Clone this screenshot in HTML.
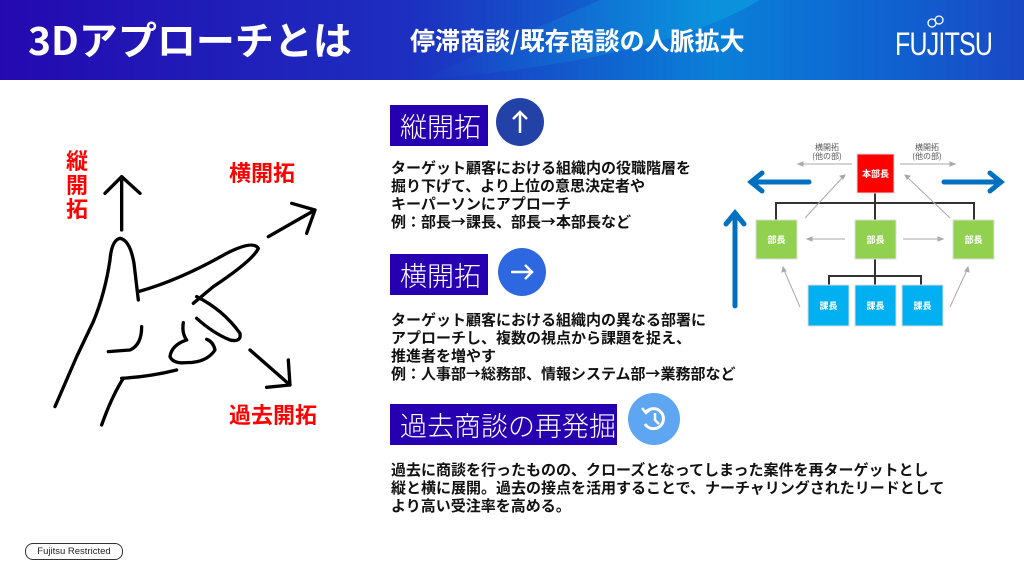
<!DOCTYPE html>
<html><head><meta charset="utf-8"><style>
*{margin:0;padding:0;box-sizing:border-box}
body{width:1024px;height:576px;background:#fff;position:relative;overflow:hidden;font-family:"Liberation Sans","Noto Sans CJK JP",sans-serif}
.hdr{position:absolute;left:0;top:0;width:1024px;height:80px;background:linear-gradient(90deg,#2409b0 0%,#1d2fc0 40%,#0a80d8 70%,#1060d0 88%,#1a48c4 100%);overflow:hidden}
.t{position:absolute;color:#fff;font-weight:bold;white-space:nowrap}
.box{position:absolute;background:#2600b0;color:#fff;font-size:27px;line-height:41px;padding-left:10px;font-family:"Noto Sans CJK JP",sans-serif;font-weight:300}
.txt{position:absolute;font-size:15px;font-weight:bold;line-height:18px;color:#111;white-space:nowrap;font-family:"Noto Sans CJK JP",sans-serif}
.red{position:absolute;color:#f00;font-weight:bold;font-size:22px;font-family:"Noto Sans CJK JP",sans-serif;line-height:24px}
</style></head><body>
<div class="hdr">
<svg width="1024" height="80" style="position:absolute;left:0;top:0"><defs><linearGradient id="g" x1="0" x2="1"><stop offset="0" stop-color="#0ab4e6" stop-opacity="0"/><stop offset="1" stop-color="#0ab4e6" stop-opacity="0.7"/></linearGradient></defs><path d="M420 80 Q660 60 760 0 L600 0 Z" fill="url(#g)" opacity="0.6"/></svg>
<div class="t" style="left:28px;top:14px;font-size:39px;font-family:'Noto Sans CJK JP',sans-serif;line-height:50px">3Dアプローチとは</div>
<div class="t" style="left:410px;top:23px;font-size:25px;font-family:'Noto Sans CJK JP',sans-serif;line-height:34px">停滞商談/既存商談の人脈拡大</div>
<div class="t" style="left:895px;top:27px;font-size:32px;font-weight:normal;letter-spacing:-1px;line-height:34px;transform:scaleX(0.78);transform-origin:left">FUJITSU</div>
<svg style="position:absolute;left:925px;top:14px" width="22" height="16"><circle cx="7" cy="9" r="4" fill="none" stroke="#fff" stroke-width="1.3"/><circle cx="14" cy="6" r="4" fill="none" stroke="#fff" stroke-width="1.3"/></svg>
</div>

<div class="red" style="left:66px;top:148px;width:24px">縦<br>開<br>拓</div>
<div class="red" style="left:229px;top:160px">横開拓</div>
<div class="red" style="left:229px;top:402px">過去開拓</div>
<svg width="1024" height="576" style="position:absolute;left:0;top:0">
<g transform="translate(40,140) scale(0.3333)" fill="none" stroke="#000" stroke-width="10" stroke-linecap="round" stroke-linejoin="round">
<path d="M245 270 L245 110 M195 160 L245 110 L300 160"/>
<path d="M685 290 L825 210 M755 190 L825 210 L800 280"/>
<path d="M630 630 L750 735 M745 660 L750 735 L680 742"/>
<path d="M45 800 L110 650 L160 545 Q195 460 210 360 Q215 300 240 295 Q270 300 282 370 L295 480"/>
<path d="M295 455 Q420 420 560 340 Q640 300 655 325 Q640 360 520 440 L460 490"/>
<path d="M470 470 Q550 510 600 580 Q605 608 570 600 Q520 580 470 535"/>
<path d="M430 548 Q425 580 440 600 Q395 615 390 650 Q400 672 440 668 Q500 668 525 630 Q520 605 500 598"/>
<path d="M305 560 Q305 615 270 630 L205 635"/>
<path d="M245 715 Q330 710 410 690"/>
<path d="M250 715 Q215 770 185 855"/>
</g>
<g stroke="#333" stroke-width="2" fill="none">
<path d="M875 193 V220 M776 220 V203 H974 V220 M875 259 V285 M829 285 V276 H921 V285"/>
</g>
<g stroke="#aaa" stroke-width="1" fill="#aaa">
<line x1="852" y1="164" x2="800" y2="164"/><path d="M798 164 l5 -2 v4z"/>
<line x1="900" y1="164" x2="953" y2="164"/><path d="M955 164 l-5 -2 v4z"/>
<line x1="805" y1="218" x2="843" y2="177"/><path d="M845 175 l-5 1 3 3z"/>
<line x1="950" y1="218" x2="907" y2="177"/><path d="M905 175 l5 1 -3 3z"/>
<line x1="845" y1="239" x2="809" y2="239"/><path d="M807 239 l5 -2 v4z"/>
<line x1="903" y1="239" x2="941" y2="239"/><path d="M943 239 l-5 -2 v4z"/>
<line x1="800" y1="307" x2="784" y2="270"/><path d="M783 267 l-1 5 4 -1z"/>
<line x1="950" y1="307" x2="967" y2="270"/><path d="M968 267 l1 5 -4 -1z"/>
</g>
<g stroke="#0070c0" stroke-width="5" fill="none" stroke-linecap="round">
<path d="M809 182 H752 M762 173 L751 182 L762 191"/>
<path d="M944 182 H1000 M990 173 L1001 182 L990 191"/>
<path d="M735 306 V214 M726 224 L735 213 L744 224"/>
</g>
<text x="827" y="150" font-size="8" fill="#555" text-anchor="middle" font-family="Noto Sans CJK JP,sans-serif">横開拓</text>
<text x="827" y="159" font-size="8" fill="#555" text-anchor="middle" font-family="Noto Sans CJK JP,sans-serif">(他の部)</text>
<text x="927" y="150" font-size="8" fill="#555" text-anchor="middle" font-family="Noto Sans CJK JP,sans-serif">横開拓</text>
<text x="927" y="159" font-size="8" fill="#555" text-anchor="middle" font-family="Noto Sans CJK JP,sans-serif">(他の部)</text>
<g font-size="9" font-weight="bold" fill="#fff" text-anchor="middle" font-family="Noto Sans CJK JP,sans-serif">
<rect x="857" y="154" width="37" height="39" fill="#f00" stroke="#ddd"/><text x="875.5" y="177">本部長</text>
<rect x="756" y="220" width="41" height="39" fill="#92d050" stroke="#ddd"/><text x="776.5" y="243">部長</text>
<rect x="855" y="220" width="41" height="39" fill="#92d050" stroke="#ddd"/><text x="875.5" y="243">部長</text>
<rect x="953" y="220" width="41" height="39" fill="#92d050" stroke="#ddd"/><text x="973.5" y="243">部長</text>
<rect x="808" y="285" width="41" height="41" fill="#00b0f0" stroke="#ddd"/><text x="828.5" y="309">課長</text>
<rect x="855" y="285" width="41" height="41" fill="#00b0f0" stroke="#ddd"/><text x="875.5" y="309">課長</text>
<rect x="902" y="285" width="41" height="41" fill="#00b0f0" stroke="#ddd"/><text x="922.5" y="309">課長</text>
</g>
<circle cx="520" cy="122" r="24" fill="#2342a8"/>
<path d="M520 133 V112 M513 119 L520 112 L527 119" stroke="#fff" stroke-width="2.5" fill="none"/>
<circle cx="522" cy="272" r="24" fill="#2d68e0"/>
<path d="M511 272 H532 M525 265 L532 272 L525 279" stroke="#fff" stroke-width="2.5" fill="none"/>
<circle cx="654" cy="419" r="26" fill="#5ea6f2"/>
<path d="M646 412 A10 10 0 1 1 645 424" stroke="#fff" stroke-width="3" fill="none"/>
<path d="M642 408 L646 413 L651 409" stroke="#fff" stroke-width="2.5" fill="none"/>
<path d="M655 413 V420 L659 424" stroke="#fff" stroke-width="2.5" fill="none"/>
</svg>

<div class="box" style="left:390px;top:105px;width:98px;height:41px">縦開拓</div>
<div class="txt" style="left:391px;top:159px">ターゲット顧客における組織内の役職階層を<br>掘り下げて、より上位の意思決定者や<br>キーパーソンにアプローチ<br>例：部長→課長、部長→本部長など</div>
<div class="box" style="left:390px;top:254px;width:98px;height:41px">横開拓</div>
<div class="txt" style="left:391px;top:311px">ターゲット顧客における組織内の異なる部署に<br>アプローチし、複数の視点から課題を捉え、<br>推進者を増やす<br>例：人事部→総務部、情報システム部→業務部など</div>
<div class="box" style="left:390px;top:404px;width:227px;height:41px">過去商談の再発掘</div>
<div class="txt" style="left:391px;top:461px">過去に商談を行ったものの、クローズとなってしまった案件を再ターゲットとし<br>縦と横に展開。過去の接点を活用することで、ナーチャリングされたリードとして<br>より高い受注率を高める。</div>

<div style="position:absolute;left:25px;top:543px;width:98px;height:17px;border:1px solid #333;border-radius:8px;font-size:9.5px;line-height:15px;text-align:center;color:#222">Fujitsu Restricted</div>
</body></html>
